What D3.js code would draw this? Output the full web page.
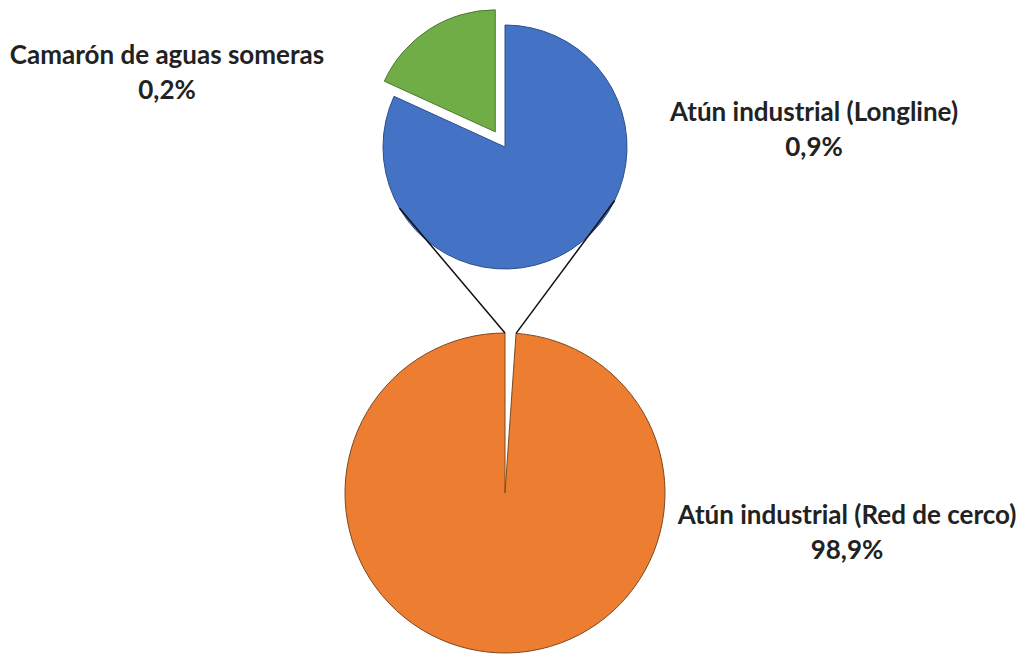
<!DOCTYPE html>
<html>
<head>
<meta charset="utf-8">
<script src="https://cdn.jsdelivr.net/npm/d3@7"></script>
<style>
  body { margin: 0; background: #fff; }
  text { font-family: Lato, "Open Sans", sans-serif; font-weight: bold; fill: #222; }
</style>
</head>
<body>
<div id="chart"></div>
<script>
// main pie: "others" group (split into the second pie) + the big category
var mainNames = ["Otros", "Atún industrial (Red de cerco)"];
var mainValues = [1.1, 98.9];
var mainColors = ["none", "#ED7D31"];
var mainStroke = ["none", "#7a4a22"];

// second pie (detail of "Otros")
var subNames = ["Atún industrial (Longline)", "Camarón de aguas someras"];
var subValues = [0.9, 0.2];
var subColors = ["#4472C4", "#70AD47"];
var subStroke = ["#2f4f8a", "#4a7a2e"];

var labelText = ["Atún industrial (Red de cerco)", "Atún industrial (Longline)", "Camarón de aguas someras"];
var labelPct = ["98,9%", "0,9%", "0,2%"];

var width = 1023, height = 654;

var svg = d3.select("#chart").append("svg")
    .attr("width", width)
    .attr("height", height);

var mainC = {x: 505, y: 493, r: 160};
var subC = {x: 505, y: 147, r: 122};

var pie = d3.pie().sort(null);

// main pie
var mainArcs = pie(mainValues);
var mainArc = d3.arc().innerRadius(0).outerRadius(mainC.r);
var gMain = svg.append("g").attr("transform", "translate(" + mainC.x + "," + mainC.y + ")");
gMain.selectAll("path")
    .data(mainArcs)
    .enter()
    .append("path")
    .attr("d", mainArc)
    .style("fill", function(d, i) { return mainColors[i]; })
    .style("stroke", function(d, i) { return mainStroke[i]; })
    .style("stroke-width", 1);

// second pie
var subArcs = pie(subValues);
var subArc = d3.arc().innerRadius(0).outerRadius(subC.r);
var explode = [0, 18];
var gSub = svg.append("g").attr("transform", "translate(" + subC.x + "," + subC.y + ")");
gSub.selectAll("path")
    .data(subArcs)
    .enter()
    .append("path")
    .attr("d", subArc)
    .attr("transform", function(d, i) {
        var a = (d.startAngle + d.endAngle) / 2;
        return "translate(" + (Math.sin(a) * explode[i]) + "," + (-Math.cos(a) * explode[i]) + ")";
    })
    .style("fill", function(d, i) { return subColors[i]; })
    .style("stroke", function(d, i) { return subStroke[i]; })
    .style("stroke-width", 1);

// series lines between the gap of the main pie and the second pie
var gap = mainArcs[0];
var joinAngles = [240 * Math.PI / 180, 116 * Math.PI / 180];
var gapAngles = [gap.startAngle, gap.endAngle];
gapAngles.forEach(function(a, i) {
    var x1 = mainC.x + Math.sin(a) * mainC.r,
        y1 = mainC.y - Math.cos(a) * mainC.r;
    var b = joinAngles[i];
    var x2 = subC.x + Math.sin(b) * subC.r,
        y2 = subC.y - Math.cos(b) * subC.r;
    svg.append("line")
        .attr("x1", x1).attr("y1", y1)
        .attr("x2", x2).attr("y2", y2)
        .style("stroke", "#111")
        .style("stroke-width", 1.5);
});

// labels
var labelPos = [{x: 847, y: 524}, {x: 814, y: 121}, {x: 167, y: 64}];
var fontSize = 26;
labelPos.forEach(function(p, i) {
    var t = svg.append("text")
        .attr("text-anchor", "middle")
        .attr("x", p.x)
        .attr("y", p.y)
        .style("font-size", fontSize + "px");
    t.append("tspan").attr("x", p.x).text(labelText[i]);
    t.append("tspan").attr("x", p.x).attr("dy", 35).text(labelPct[i]);
});
</script>
</body>
</html>
